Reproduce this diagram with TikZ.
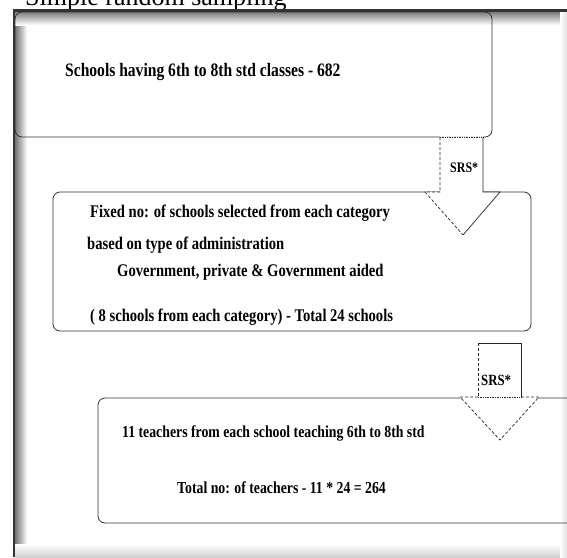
\documentclass[tikz,border=0pt]{standalone}
\usepackage{fontspec}
\setmainfont{Liberation Serif}
\newfontfamily\condfont[FakeStretch=0.82]{Liberation Serif}
\usetikzlibrary{positioning,calc}
\tikzset{
  box/.style={draw=black!80, line width=0.8pt, rounded corners=7pt},
  boxtext/.style={anchor=west, inner sep=0pt, font=\condfont\bfseries\fontsize{#1}{#1}\selectfont},
  srsedge/.style={draw=black!85, line width=0.7pt},
  frameline/.style={line width=2.5pt, draw=black!80}
}

\begin{document}
\begin{tikzpicture}[x=1pt,y=-1pt]
\clip (0,0) rectangle (567,557);
% outer frame with its shadow
\shade[left color=black!55, right color=white] (15,11) rectangle (27,557);
\shade[top color=black!55, bottom color=white] (15,11) rectangle (567,25);
\shade[top color=white, bottom color=black!18] (15,544) rectangle (567,557);
\shade[left color=white, right color=black!12] (560,11) rectangle (567,557);
\node[anchor=base west, inner sep=0pt, font=\fontsize{26}{28}\selectfont] (title) at (25,5) {Simple random sampling};
\draw [frameline] (14,557) -- (14,10.5) -- (567,10.5);

% the three boxes
\node[box, minimum width=477pt, minimum height=125pt] (schools) at (253.5,74.5) {};
\node[box, minimum width=478pt, minimum height=139pt] (category) at (292,261.5) {};
\node[box, minimum width=522pt, minimum height=125pt] (teachers) at (359,460.5) {};

\node[boxtext=19] (t1) at (65,72) {Schools having 6th to 8th std classes - 682};
\node[boxtext=17.8] (t2) at (90,213) {Fixed no: of schools selected from each category};
\node[boxtext=17.8] (t3) at (87,245) {based on type of administration};
\node[boxtext=17.8] (t4) at (117,272) {Government, private \& Government aided};
\node[boxtext=17.8] (t5) at (90,317) {( 8 schools from each category) - Total 24 schools};
\node[boxtext=16.8] (t6) at (122,433) {11 teachers from each school teaching 6th to 8th std};
\node[boxtext=16.8] (t7) at (177,488) {Total no: of teachers - 11 * 24 = 264};

% first SRS arrow
\fill [white] (440,136.3) -- (440,192) -- (425,192) -- (463,235) -- (500,192) -- (483,192) -- (483,136.3) -- cycle;
\draw [srsedge, densely dotted] (440,137) -- (483,137);
\draw [srsedge, densely dashed] (440,137) -- (440,192) -- (425,192) -- (463,235);
\draw [srsedge] (463,235) -- (500,192) -- (483,192) -- (483,137);
\node[boxtext=14.6] (srs1) at (450,168) {SRS*};

% second SRS arrow
\fill [white] (478,343) -- (478,397) -- (460,397) -- (500,440) -- (539,397) -- (521,397) -- (521,343) -- cycle;
\draw [srsedge] (478,343) -- (521,343) -- (521,397);
\draw [srsedge, densely dashed] (478,343) -- (478,397);
\draw [srsedge, densely dotted] (478,397) -- (521,397);
\draw [srsedge, densely dashed] (478,397) -- (460,397) -- (500,440) -- (539,397) -- (521,397);
\node[boxtext=15.6] (srs2) at (481,380) {SRS*};
\end{tikzpicture}
\end{document}
